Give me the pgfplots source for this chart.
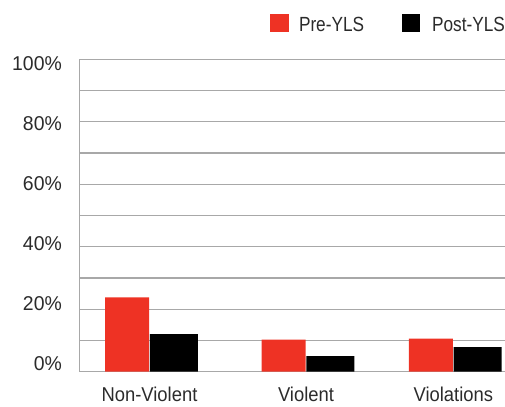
\documentclass[border=0pt]{standalone}
\usepackage{fontspec}
\setmainfont{Liberation Sans}[FakeStretch=0.92]
\newfontfamily\numfont{Liberation Sans}[FakeStretch=0.97]
\newfontfamily\legfont{Liberation Sans}[FakeStretch=0.84]
\usepackage{pgfplots}
\pgfplotsset{compat=1.18}
\definecolor{barred}{HTML}{EE3224}
\definecolor{gridgray}{HTML}{A8A8A8}
\definecolor{textgray}{HTML}{2B2B2B}
\begin{document}
\begin{tikzpicture}
\useasboundingbox (-79.3bp,-35.3bp) rectangle (425.7bp,371.7bp);
\begin{axis}[
  scale only axis,
  width=425.7bp, height=312.4bp,
  xmin=0, xmax=425.7,
  ymin=0, ymax=100,
  ytick={0,10,...,100},
  yticklabels={},
  xtick={70.2,226.7,374.0},
  xticklabels={Non-Violent,Violent,Violations},
  xticklabel style={font=\fontsize{20bp}{24bp}\selectfont, text=textgray, anchor=north, inner sep=0pt, yshift=-15.6bp},
  major tick length=0pt,
  ymajorgrids,
  grid style={gridgray, line width=1.1bp},
  axis x line*=bottom,
  axis y line*=left,
  axis line style={gridgray, line width=1.1bp},
  ybar,
  legend columns=2,
  legend style={at={(0.448,1.145)}, anchor=north west, draw=none, fill=none,
    inner sep=0pt, outer sep=0pt,
    nodes={inner sep=0pt, font=\legfont\fontsize{20.5bp}{24bp}\selectfont, text=textgray},
    /tikz/every even column/.append style={column sep=38bp}},
]
\addplot[draw=none, fill=barred, bar width=44, bar shift=-22.5,
  legend image code/.code={\fill[barred] (0bp,-7.2bp) rectangle (19bp,10.8bp); \path (29bp,0bp);}]
  coordinates {(70.2,23.8) (226.7,10.3) (374.0,10.6)};
\addlegendentry{Pre-YLS}
\addplot[draw=none, fill=black, bar width=48, bar shift=24.3,
  legend image code/.code={\fill[black] (0bp,-7.2bp) rectangle (18bp,10.8bp); \path (30bp,0bp);}]
  coordinates {(70.2,12.0) (226.7,5.0) (374.0,7.9)};
\addlegendentry{Post-YLS}
\end{axis}
\begin{axis}[
  scale only axis,
  width=425.7bp, height=312.4bp,
  xmin=0, xmax=1, ymin=-2.56, ymax=101.4,
  xtick=\empty,
  ytick={0,20,...,100},
  yticklabels={0\%,20\%,40\%,60\%,80\%,100\%},
  yticklabel style={font=\numfont\fontsize{20bp}{24bp}\selectfont, text=textgray, anchor=east, inner sep=0pt, xshift=-17.3bp},
  major tick length=0pt,
  axis line style={draw=none},
]
\end{axis}
\end{tikzpicture}
\end{document}
